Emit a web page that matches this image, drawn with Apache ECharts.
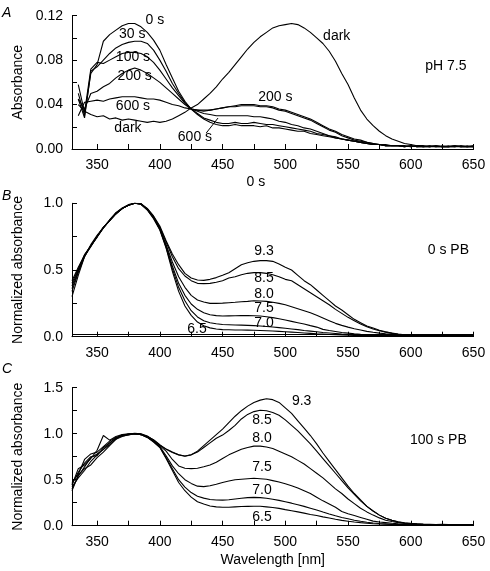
<!DOCTYPE html>
<html><head><meta charset="utf-8">
<script src="https://cdn.jsdelivr.net/npm/echarts@6/dist/echarts.min.js"></script>
<style>html,body{margin:0;padding:0;background:#fff}#c{width:490px;height:571px}</style>
</head><body><div id="c"></div>
<script>
// ---------- wavelengths ----------
const wlA = [335,340,345,350,355,360,365,370,375,380,
  385,390,395,400,405,410,415,420,425,430,
  435,440,445,450,455,460,465,470,475,480,
  485,490,495,500,505,510,515,520,525,530,
  535,540,545,550,555,560,565,570,575,580,
  585,590,595,600,605,610,615,620,625,630,
  635,640,645,650];
const wlBC = [330,335,340,345,350,355,360,365,370,375,
  380,385,390,395,400,405,410,415,420,425,
  430,435,440,445,450,455,460,465,470,475,
  480,485,490,495,500,505,510,515,520,525,
  530,535,540,545,550,555,560,565,570,575,
  580,585,590,595,600,605,610,615,620,625,
  630,635,640,645,650];

// ---------- panel A: absorbance, pH 7.5 ----------
const A_dark = [0.040,0.034,0.031,0.029,0.030,0.027,0.028,0.026,0.027,0.026,
  0.025,0.024,0.025,0.024,0.025,0.027,0.030,0.033,0.037,0.040,
  0.045,0.050,0.056,0.063,0.069,0.076,0.083,0.090,0.096,0.101,
  0.105,0.109,0.111,0.112,0.113,0.112,0.109,0.105,0.100,0.095,
  0.088,0.079,0.068,0.058,0.046,0.035,0.027,0.021,0.016,0.012,
  0.009,0.007,0.005,0.004,0.003,0.003,0.002,0.003,0.002,0.002,
  0.003,0.002,0.002,0.003];
const A_0s = [0.050,0.030,0.068,0.076,0.097,0.103,0.107,0.111,0.113,0.113,
  0.110,0.105,0.098,0.089,0.076,0.064,0.052,0.043,0.036,0.031,
  0.027,0.024,0.022,0.021,0.021,0.022,0.021,0.021,0.021,0.020,
  0.021,0.019,0.019,0.018,0.017,0.016,0.016,0.014,0.013,0.012,
  0.011,0.010,0.009,0.008,0.007,0.006,0.005,0.004,0.004,0.003,
  0.003,0.003,0.002,0.003,0.002,0.003,0.002,0.002,0.003,0.002,
  0.002,0.003,0.002,0.002];
const A_30s = [0.045,0.028,0.070,0.074,0.080,0.086,0.091,0.094,0.096,0.097,
  0.097,0.095,0.089,0.080,0.070,0.059,0.050,0.042,0.036,0.032,
  0.028,0.026,0.024,0.023,0.023,0.024,0.023,0.023,0.024,0.023,
  0.022,0.022,0.021,0.020,0.019,0.018,0.017,0.016,0.014,0.013,
  0.012,0.010,0.009,0.008,0.007,0.006,0.005,0.004,0.004,0.003,
  0.003,0.003,0.003,0.002,0.003,0.002,0.002,0.003,0.002,0.002,
  0.003,0.002,0.002,0.003];
const A_100s = [0.058,0.033,0.072,0.078,0.077,0.080,0.083,0.086,0.087,0.087,
  0.086,0.083,0.078,0.071,0.063,0.055,0.048,0.041,0.036,0.034,
  0.032,0.031,0.030,0.030,0.030,0.030,0.030,0.030,0.029,0.029,
  0.028,0.027,0.025,0.024,0.022,0.021,0.019,0.018,0.016,0.014,
  0.012,0.011,0.009,0.008,0.007,0.006,0.005,0.004,0.004,0.003,
  0.003,0.003,0.002,0.003,0.002,0.002,0.003,0.002,0.002,0.003,
  0.002,0.002,0.003,0.002];
const A_200s = [0.045,0.036,0.050,0.052,0.056,0.059,0.064,0.068,0.071,0.073,
  0.071,0.068,0.064,0.060,0.055,0.050,0.045,0.040,0.036,0.035,
  0.035,0.035,0.036,0.037,0.038,0.039,0.040,0.040,0.040,0.039,
  0.039,0.038,0.036,0.035,0.033,0.031,0.029,0.027,0.024,0.021,
  0.018,0.016,0.013,0.011,0.009,0.008,0.006,0.005,0.004,0.004,
  0.003,0.003,0.003,0.002,0.003,0.002,0.002,0.003,0.002,0.002,
  0.003,0.002,0.002,0.002];
const A_600s = [0.030,0.042,0.043,0.044,0.043,0.045,0.046,0.047,0.047,0.047,
  0.046,0.045,0.045,0.044,0.042,0.040,0.039,0.037,0.036,0.035,
  0.034,0.035,0.036,0.037,0.038,0.038,0.039,0.039,0.039,0.038,
  0.038,0.037,0.035,0.034,0.032,0.030,0.028,0.026,0.023,0.020,
  0.017,0.015,0.012,0.010,0.008,0.007,0.006,0.005,0.004,0.003,
  0.003,0.003,0.002,0.003,0.002,0.002,0.003,0.002,0.002,0.002,
  0.002,0.003,0.002,0.002];

// ---------- panel B: normalized, 0 s PB ----------
const B_93 = [0.38,0.50,0.61,0.68,0.75,0.82,0.87,0.925,0.96,0.985,
  1.0,0.998,0.962,0.905,0.83,0.72,0.62,0.54,0.475,0.44,
  0.425,0.422,0.43,0.443,0.46,0.48,0.51,0.54,0.555,0.565,
  0.57,0.57,0.565,0.545,0.52,0.50,0.46,0.42,0.39,0.35,
  0.31,0.27,0.23,0.20,0.165,0.13,0.105,0.08,0.065,0.048,
  0.036,0.028,0.02,0.015,0.012,0.01,0.009,0.008,0.009,0.007,
  0.008,0.007,0.008,0.006,0.007];
const B_85 = [0.42,0.52,0.61,0.685,0.745,0.815,0.875,0.93,0.965,0.99,
  1.0,0.995,0.958,0.9,0.82,0.71,0.60,0.51,0.455,0.42,
  0.40,0.398,0.40,0.408,0.42,0.44,0.45,0.465,0.475,0.48,
  0.48,0.475,0.465,0.45,0.43,0.42,0.39,0.36,0.33,0.30,
  0.27,0.24,0.205,0.175,0.145,0.12,0.095,0.075,0.058,0.045,
  0.034,0.025,0.018,0.014,0.011,0.009,0.008,0.007,0.008,0.006,
  0.007,0.006,0.007,0.005,0.006];
const B_80 = [0.30,0.46,0.60,0.69,0.76,0.82,0.87,0.92,0.96,0.985,
  1.0,0.995,0.955,0.895,0.81,0.69,0.56,0.45,0.37,0.31,
  0.275,0.26,0.25,0.25,0.252,0.255,0.258,0.262,0.265,0.27,
  0.268,0.265,0.258,0.25,0.24,0.225,0.21,0.195,0.18,0.16,
  0.14,0.12,0.10,0.085,0.072,0.06,0.05,0.04,0.033,0.027,
  0.022,0.018,0.014,0.011,0.009,0.008,0.007,0.006,0.007,0.005,
  0.006,0.005,0.006,0.005,0.005];
const B_75 = [0.36,0.49,0.605,0.675,0.75,0.815,0.87,0.925,0.96,0.985,
  1.0,0.995,0.955,0.895,0.81,0.68,0.53,0.40,0.31,0.245,
  0.205,0.18,0.165,0.158,0.155,0.156,0.157,0.158,0.158,0.157,
  0.155,0.15,0.143,0.135,0.125,0.115,0.105,0.095,0.083,0.072,
  0.055,0.046,0.039,0.032,0.027,0.022,0.018,0.015,0.013,0.011,
  0.01,0.009,0.008,0.007,0.006,0.006,0.005,0.006,0.005,0.004,
  0.005,0.004,0.005,0.004,0.004];
const B_70 = [0.40,0.51,0.615,0.68,0.755,0.815,0.875,0.925,0.962,0.988,
  1.0,0.993,0.952,0.89,0.805,0.67,0.51,0.37,0.27,0.195,
  0.148,0.12,0.105,0.097,0.092,0.09,0.088,0.087,0.085,0.083,
  0.08,0.077,0.073,0.068,0.063,0.058,0.053,0.047,0.042,0.037,
  0.032,0.028,0.024,0.02,0.017,0.015,0.013,0.011,0.01,0.009,
  0.008,0.007,0.006,0.006,0.005,0.005,0.004,0.005,0.004,0.004,
  0.004,0.003,0.004,0.003,0.004];
const B_65 = [0.34,0.48,0.60,0.68,0.75,0.82,0.87,0.92,0.96,0.985,
  1.0,0.993,0.95,0.885,0.80,0.665,0.49,0.34,0.23,0.16,
  0.11,0.082,0.066,0.058,0.053,0.052,0.05,0.05,0.049,0.048,
  0.047,0.045,0.043,0.04,0.037,0.034,0.031,0.028,0.025,0.022,
  0.02,0.017,0.015,0.013,0.011,0.01,0.009,0.008,0.007,0.006,
  0.006,0.005,0.005,0.004,0.004,0.004,0.003,0.004,0.003,0.003,
  0.003,0.003,0.004,0.003,0.003];

// ---------- panel C: normalized, 100 s PB ----------
const C_93 = [0.42,0.52,0.60,0.70,0.77,0.83,0.90,0.95,0.98,0.995,
  1.005,1.0,0.975,0.93,0.875,0.835,0.80,0.772,0.758,0.772,
  0.81,0.87,0.93,0.99,1.05,1.12,1.19,1.25,1.30,1.34,
  1.365,1.38,1.37,1.34,1.28,1.22,1.14,1.06,0.98,0.89,
  0.79,0.70,0.61,0.52,0.43,0.35,0.28,0.21,0.16,0.115,
  0.08,0.06,0.042,0.032,0.025,0.02,0.016,0.015,0.013,0.014,
  0.012,0.013,0.011,0.012,0.01];
const C_85 = [0.38,0.55,0.62,0.66,0.74,0.80,0.87,0.94,0.99,0.99,
  1.0,0.995,0.97,0.935,0.88,0.83,0.795,0.77,0.755,0.77,
  0.80,0.85,0.90,0.95,0.985,1.035,1.09,1.16,1.21,1.24,
  1.255,1.25,1.23,1.20,1.15,1.09,1.03,0.96,0.89,0.81,
  0.73,0.65,0.57,0.49,0.41,0.34,0.27,0.21,0.16,0.115,
  0.08,0.058,0.04,0.03,0.022,0.018,0.015,0.013,0.012,0.013,
  0.011,0.012,0.01,0.011,0.01];
const C_80 = [0.47,0.56,0.72,0.78,0.80,0.86,0.92,0.96,0.975,0.985,
  1.0,0.995,0.97,0.93,0.87,0.81,0.72,0.65,0.625,0.62,
  0.625,0.64,0.66,0.69,0.73,0.77,0.80,0.83,0.85,0.865,
  0.865,0.855,0.84,0.81,0.78,0.75,0.71,0.67,0.62,0.57,
  0.52,0.46,0.40,0.35,0.29,0.24,0.19,0.15,0.115,0.085,
  0.06,0.045,0.033,0.025,0.02,0.017,0.014,0.013,0.012,0.012,
  0.01,0.011,0.01,0.01,0.009];
const C_75 = [0.44,0.62,0.66,0.73,0.82,0.98,0.93,0.97,0.99,1.0,
  1.0,0.99,0.965,0.92,0.86,0.76,0.65,0.565,0.50,0.46,
  0.43,0.425,0.435,0.45,0.47,0.485,0.50,0.505,0.51,0.515,
  0.51,0.505,0.49,0.475,0.455,0.435,0.41,0.38,0.35,0.31,
  0.27,0.235,0.20,0.155,0.13,0.11,0.09,0.07,0.05,0.04,
  0.033,0.026,0.02,0.016,0.013,0.012,0.011,0.01,0.01,0.009,
  0.01,0.009,0.009,0.008,0.009];
const C_70 = [0.40,0.54,0.64,0.74,0.78,0.83,0.88,0.94,0.97,0.99,
  1.0,0.99,0.96,0.915,0.855,0.74,0.62,0.50,0.42,0.36,
  0.32,0.30,0.285,0.28,0.278,0.282,0.29,0.298,0.305,0.308,
  0.305,0.298,0.288,0.275,0.26,0.245,0.228,0.21,0.19,0.17,
  0.148,0.127,0.108,0.09,0.075,0.06,0.048,0.038,0.03,0.024,
  0.02,0.016,0.013,0.012,0.011,0.01,0.009,0.009,0.008,0.009,
  0.008,0.008,0.007,0.008,0.007];
const C_65 = [0.45,0.58,0.68,0.75,0.76,0.85,0.90,0.955,0.98,0.995,
  1.0,0.99,0.96,0.91,0.85,0.73,0.60,0.47,0.38,0.31,
  0.26,0.235,0.215,0.205,0.20,0.20,0.205,0.208,0.21,0.212,
  0.212,0.205,0.198,0.188,0.175,0.163,0.15,0.137,0.122,0.11,
  0.096,0.083,0.07,0.058,0.048,0.04,0.033,0.027,0.022,0.018,
  0.015,0.013,0.011,0.01,0.009,0.009,0.008,0.008,0.007,0.008,
  0.007,0.007,0.006,0.007,0.006];

// ---------- axes ticks / labels ----------
const xTicks = [350,375,400,425,450,475,500,525,550,575,600,625,650];
const xLabels = [350,400,450,500,550,600,650];
const yTicksA = [0,0.02,0.04,0.06,0.08,0.10,0.12];
const yLabelsA = [0,0.04,0.08,0.12];
const yTicksB = [0,0.25,0.5,0.75,1.0];
const yLabelsB = [0,0.5,1.0];
const yTicksC = [0,0.25,0.5,0.75,1.0,1.25,1.5];
const yLabelsC = [0,0.5,1.0,1.5];
const baselines = [0.0025, 0.02, 0.015];

// ---------- annotations [text, wavelength, value, panel] ----------
const notes = [
  ['0 s',396,0.116,0],['30 s',378,0.1035,0],['100 s',378.6,0.0824,0],['200 s',380,0.0657,0],
  ['600 s',378.6,0.0387,0],['dark',374.6,0.0189,0],['600 s',428,0.0108,0],['dark',541,0.1017,0],
  ['200 s',492,0.0468,0],['pH 7.5',628,0.0747,0],['0 s',476.6,-0.0297,0],
  ['9.3',483,0.643,1],['8.5',483,0.44,1],['8.0',483,0.32,1],['7.5',483,0.215,1],['7.0',483,0.103,1],
  ['6.5',429.6,0.058,1],['0 s PB',630,0.65,1],
  ['9.3',513,1.355,2],['8.5',481.4,1.149,2],['8.0',481.4,0.953,2],['7.5',481.4,0.638,2],
  ['7.0',481.4,0.388,2],['6.5',481.4,0.095,2],['100 s PB',622,0.93,2]
];
const arrowA = [[437,0.0144],[446.4,0.0279]];

const FONT = '"Liberation Sans", Arial, Helvetica, sans-serif';
const chart = echarts.init(document.getElementById('c'), null, {renderer:'canvas'});

const grids = [
  {left:72, right:16.5, top:15.7, height:133.3},
  {left:72, right:16.5, top:203.3, height:133.4},
  {left:72, right:16.5, top:387.7, height:138}
];
function xAx(i, name){
  return {type:'value', gridIndex:i, min:330, max:650,
    axisLine:{show:true, onZero:false, lineStyle:{color:'#000', width:1}},
    axisTick:{show:true, inside:true, length:5, customValues:xTicks, lineStyle:{color:'#000'}},
    axisLabel:{customValues:xLabels, color:'#000', fontSize:14, fontFamily:FONT, margin:9},
    splitLine:{show:false},
    name:name||'', nameLocation:'middle', nameGap:27,
    nameTextStyle:{color:'#000', fontSize:14, fontFamily:FONT}};
}
function yAx(i, max, ticks, labels, digits, name){
  return {type:'value', gridIndex:i, min:0, max:max,
    axisLine:{show:true, lineStyle:{color:'#000', width:1}},
    axisTick:{show:true, inside:true, length:5, customValues:ticks, lineStyle:{color:'#000'}},
    axisLabel:{customValues:labels, color:'#000', fontSize:14, fontFamily:FONT, margin:9,
      formatter:(v)=>Number(v).toFixed(digits)},
    splitLine:{show:false},
    name:name, nameLocation:'middle', nameGap:47,
    nameTextStyle:{color:'#000', fontSize:14, fontFamily:FONT}};
}
function zip(wl, vals){ return vals.map((v,k)=>[wl[k], v]); }
function line(name, i, wl, vals, base){
  const s = {name:name, type:'line', xAxisIndex:i, yAxisIndex:i, data:zip(wl, vals),
    showSymbol:false, symbol:'none', silent:true, animation:false,
    lineStyle:{color:'#000', width:1.1}, z:3};
  if (base !== undefined){
    s.markLine = {silent:true, symbol:'none', label:{show:false},
      lineStyle:{color:'#000', width:1, type:'solid'}, data:[{yAxis:base}], animation:false};
  }
  return s;
}

const series = [
  line('dark',0,wlA,A_dark,baselines[0]), line('0 s',0,wlA,A_0s), line('30 s',0,wlA,A_30s),
  line('100 s',0,wlA,A_100s), line('200 s',0,wlA,A_200s), line('600 s',0,wlA,A_600s),
  line('9.3',1,wlBC,B_93,baselines[1]), line('8.5',1,wlBC,B_85), line('8.0',1,wlBC,B_80),
  line('7.5',1,wlBC,B_75), line('7.0',1,wlBC,B_70), line('6.5',1,wlBC,B_65),
  line('9.3',2,wlBC,C_93,baselines[2]), line('8.5',2,wlBC,C_85), line('8.0',2,wlBC,C_80),
  line('7.5',2,wlBC,C_75), line('7.0',2,wlBC,C_70), line('6.5',2,wlBC,C_65)
];

chart.setOption({
  backgroundColor:'#fff',
  animation:false,
  grid:grids,
  xAxis:[xAx(0), xAx(1), xAx(2,'Wavelength [nm]')],
  yAxis:[yAx(0,0.12,yTicksA,yLabelsA,2,'Absorbance'),
         yAx(1,1.0,yTicksB,yLabelsB,1,'Normalized absorbance'),
         yAx(2,1.5,yTicksC,yLabelsC,1,'Normalized absorbance')],
  series:series
});

const g = [];
['A','B','C'].forEach((t,k)=>{
  const tops = [6, 189, 362];
  g.push({type:'text', left:2, top:tops[k], style:{text:t, fill:'#000', font:'italic 14px '+FONT}});
});
notes.forEach(n=>{
  const p = chart.convertToPixel({gridIndex:n[3]}, [n[1], n[2]]);
  g.push({type:'text', x:p[0], y:p[1], style:{text:n[0], fill:'#000', font:'14px '+FONT,
    align:'center', verticalAlign:'middle'}, z:10});
});
const a0 = chart.convertToPixel({gridIndex:0}, arrowA[0]);
const a1 = chart.convertToPixel({gridIndex:0}, arrowA[1]);
g.push({type:'line', shape:{x1:a0[0], y1:a0[1], x2:a1[0], y2:a1[1]}, style:{stroke:'#000', lineWidth:1}, z:10});
chart.setOption({graphic:g});
</script>
</body></html>
